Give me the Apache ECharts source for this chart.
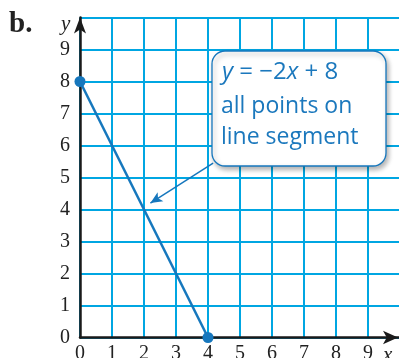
<!DOCTYPE html>
<html><head><meta charset="utf-8">
<script src="https://cdn.jsdelivr.net/npm/echarts@6/dist/echarts.min.js"></script>
<style>html,body{margin:0;padding:0;background:#fff}#c{width:399px;height:358px}</style>
</head><body><div id="c"></div>
<script>
// Data
var segmentX = [0, 4];
var segmentY = [8, 0];
var xTicks = [0, 1, 2, 3, 4, 5, 6, 7, 8, 9];
var yTicks = [0, 1, 2, 3, 4, 5, 6, 7, 8, 9];
var calloutFrom = [4.16, 5.45];
var calloutTo = [2.2, 4.2];
var calloutLines = ['{i|y} = \u22122{i|x} + 8', 'all points on', 'line segment'];

var GRID = '#00a6e2', AX = '#1a1a1a', BLUE = '#1677bd', TXT = '#1b78bd';
var chart = echarts.init(document.getElementById('c'), null, {renderer: 'canvas'});
var segData = segmentX.map(function (x, i) { return [x, segmentY[i]]; });
var serif = '"Liberation Serif", "DejaVu Serif", serif';
var sans = '"Open Sans", sans-serif';

chart.setOption({
  animation: false,
  grid: {left: 80, top: 17.5, width: 320, height: 320, containLabel: false, outerBoundsMode: 'none'},
  xAxis: [
    {type: 'value', min: 0, max: 10, interval: 1, z: 0,
     axisLine: {show: false}, axisTick: {show: false}, axisLabel: {show: false},
     splitLine: {show: true, lineStyle: {color: GRID, width: 2}}},
    {type: 'value', min: 0, max: 10, interval: 1, position: 'bottom', z: 3,
     axisLine: {show: true, onZero: false, symbol: ['none', 'arrow'], symbolSize: [10, 15], symbolOffset: [0, -2],
                lineStyle: {color: AX, width: 2.5}},
     axisTick: {show: false}, splitLine: {show: false},
     axisLabel: {show: true, margin: 6, fontFamily: serif, fontSize: 20, color: '#222', showMaxLabel: false,
                 formatter: function (v) { return xTicks.indexOf(v) >= 0 ? String(v) : ''; }}}
  ],
  yAxis: [
    {type: 'value', min: 0, max: 10, interval: 1, z: 0,
     axisLine: {show: false}, axisTick: {show: false}, axisLabel: {show: false},
     splitLine: {show: true, lineStyle: {color: GRID, width: 2}}},
    {type: 'value', min: 0, max: 10, interval: 1, position: 'left', z: 3,
     axisLine: {show: true, onZero: false, symbol: ['none', 'arrow'], symbolSize: [9, 16], symbolOffset: [0, 0],
                lineStyle: {color: AX, width: 2.5}},
     axisTick: {show: false}, splitLine: {show: false},
     axisLabel: {show: true, margin: 10, fontFamily: serif, fontSize: 20, color: '#222', showMaxLabel: false,
                 formatter: function (v) { return yTicks.indexOf(v) >= 0 ? String(v) : ''; }}}
  ],
  series: [
    {type: 'line', xAxisIndex: 0, yAxisIndex: 0, z: 5, data: segData,
     symbol: 'circle', symbolSize: 11, showSymbol: true,
     lineStyle: {color: BLUE, width: 2.5}, itemStyle: {color: BLUE}},
    {type: 'line', xAxisIndex: 0, yAxisIndex: 0, z: 4, data: [], silent: true,
     markLine: {silent: true, symbol: ['none', 'arrow'], symbolSize: [8, 12],
       label: {show: false},
       lineStyle: {color: BLUE, width: 1.5, type: 'solid'},
       data: [[{coord: calloutFrom}, {coord: calloutTo}]]}}
  ],
  graphic: [
    {type: 'text', left: 9, top: 10, style: {text: 'b.', fontFamily: serif, fontWeight: 'bold', fontSize: 29, fill: '#222'}},
    {type: 'text', left: 61, top: 14, style: {text: 'y', fontFamily: serif, fontStyle: 'italic', fontSize: 21, fill: '#222'}},
    {type: 'text', left: 383, top: 345, style: {text: 'x', fontFamily: serif, fontStyle: 'italic', fontSize: 21, fill: '#222'}},
    {type: 'rect', z: 10, shape: {x: 212, y: 51, width: 174, height: 115, r: 13},
     style: {fill: '#fff', stroke: BLUE, lineWidth: 1.3, shadowBlur: 5, shadowOffsetX: 2, shadowOffsetY: 3, shadowColor: 'rgba(0,0,0,0.3)'}},
    {type: 'text', z: 11, left: 222, top: 60,
     style: {text: calloutLines[0], fontFamily: sans, fontSize: 24, fill: TXT,
             rich: {i: {fontFamily: sans, fontStyle: 'italic', fontSize: 24, fill: TXT}}}},
    {type: 'text', z: 11, left: 221, top: 95,
     style: {text: calloutLines[1], fontFamily: sans, fontSize: 23, fill: TXT}},
    {type: 'text', z: 11, left: 221, top: 126,
     style: {text: calloutLines[2], fontFamily: sans, fontSize: 23, fill: TXT}}
  ]
});
</script></body></html>
